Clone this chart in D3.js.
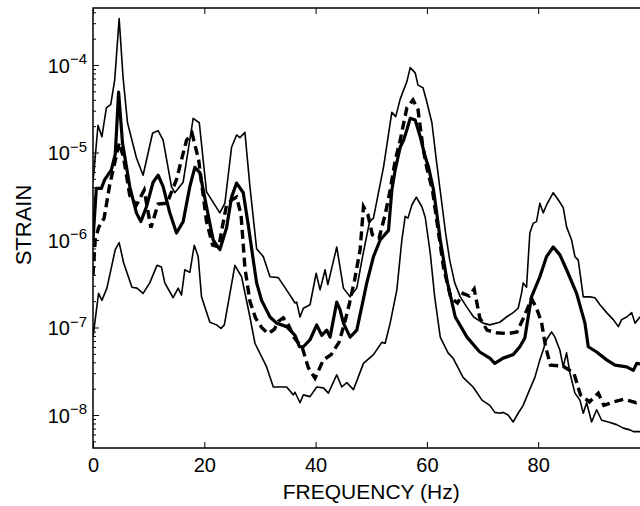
<!DOCTYPE html>
<html>
<head>
<meta charset="utf-8">
<script src="https://cdn.jsdelivr.net/npm/d3@7/dist/d3.min.js"></script>
<style>
body { margin: 0; background: #fff; }
text { font-family: "Liberation Sans", Arial, Helvetica, sans-serif; fill: #000; }
</style>
</head>
<body>
<div class="container"></div>
<script>
// strain spectra, values are log10(strain) against frequency in Hz

var upperBound = [[0,-5.34],[0.4,-5.05],[0.9,-4.69],[1.6,-4.82],[2.4,-4.49],[3.2,-4.45],[3.9,-4.17],[4.7,-3.47],[5.4,-4.14],[6.2,-4.66],[7.8,-5.06],[9.0,-5.26],[10.7,-4.78],[11.7,-4.75],[12.6,-4.86],[14.1,-5.39],[14.7,-5.46],[16.2,-5.34],[18.0,-4.61],[19.1,-4.66],[20.4,-5.45],[22.8,-5.69],[23.7,-5.58],[24.9,-4.94],[25.8,-4.80],[26.4,-4.83],[27.3,-4.77],[28.2,-5.39],[29.4,-6.10],[30.6,-6.19],[31.8,-6.42],[33.3,-6.43],[35.4,-6.63],[36.3,-6.72],[36.6,-6.71],[37.2,-6.88],[37.8,-6.78],[39.0,-6.74],[40.1,-6.38],[40.8,-6.57],[41.7,-6.34],[42.2,-6.51],[43.8,-6.08],[45.0,-6.55],[46.2,-6.65],[47.4,-6.55],[48.5,-6.17],[49.1,-5.98],[49.7,-5.79],[50.4,-5.75],[51.2,-5.49],[52.2,-5.17],[53.7,-4.54],[54.4,-4.59],[55.2,-4.39],[56.4,-4.19],[57.0,-4.03],[57.9,-4.09],[58.4,-4.23],[59.3,-4.26],[59.9,-4.40],[60.9,-4.66],[61.7,-5.09],[62.6,-5.54],[63.4,-5.94],[64.1,-6.23],[65.0,-6.49],[66.0,-6.65],[67.2,-6.77],[68.4,-6.88],[70.1,-6.95],[71.3,-6.97],[73.1,-6.94],[74.3,-6.88],[75.5,-6.83],[76.4,-6.78],[77.0,-6.61],[77.3,-6.49],[77.9,-6.54],[78.5,-5.92],[79.1,-5.81],[79.7,-5.79],[80.3,-5.58],[80.9,-5.69],[81.5,-5.60],[82.7,-5.46],[83.6,-5.54],[84.5,-5.63],[85.1,-5.85],[86.0,-6.00],[86.6,-6.19],[87.2,-6.23],[88.1,-6.65],[89.3,-6.65],[90.2,-6.66],[91.1,-6.74],[92.3,-6.83],[93.5,-6.91],[94.4,-6.99],[95.0,-6.91],[95.9,-6.88],[96.8,-6.83],[97.4,-6.95],[98.3,-6.88],[100,-6.82]];

var lowerBound = [[0,-7.11],[0.4,-6.91],[1.0,-6.61],[1.6,-6.69],[2.5,-6.55],[4.0,-6.11],[4.7,-6.03],[5.5,-6.26],[7.0,-6.54],[7.9,-6.55],[9.0,-6.61],[10.2,-6.49],[11.5,-6.29],[12.3,-6.31],[12.9,-6.49],[14.4,-6.66],[15.3,-6.55],[15.9,-6.63],[16.5,-6.34],[17.4,-6.37],[18.2,-6.06],[18.9,-6.19],[19.5,-6.65],[21.0,-6.94],[22.2,-6.97],[23.0,-7.01],[23.6,-6.97],[25.5,-6.29],[26.7,-6.42],[28.2,-6.88],[29.1,-7.18],[31.2,-7.45],[32.4,-7.68],[34.8,-7.68],[36.0,-7.77],[36.3,-7.74],[37.2,-7.86],[37.8,-7.77],[39.0,-7.79],[40.2,-7.68],[41.4,-7.69],[42.3,-7.75],[43.8,-7.54],[44.7,-7.68],[45.6,-7.63],[46.8,-7.71],[48.6,-7.41],[50.4,-7.31],[51.9,-7.17],[52.5,-7.18],[53.4,-6.95],[54.6,-6.57],[55.5,-6.00],[56.1,-5.73],[56.6,-5.75],[57.3,-5.60],[58.1,-5.51],[59.1,-5.62],[59.7,-5.74],[60.6,-6.15],[61.4,-6.65],[62.4,-7.11],[63.8,-7.29],[64.7,-7.35],[66.5,-7.57],[68.3,-7.68],[69.9,-7.83],[71.3,-7.89],[72.2,-7.97],[73.1,-7.98],[73.7,-7.97],[74.6,-8.00],[75.5,-8.08],[76.4,-7.98],[77.3,-7.89],[78.2,-7.75],[79.4,-7.57],[80.3,-7.37],[81.5,-7.14],[82.4,-7.05],[83.0,-7.11],[83.9,-7.26],[84.5,-7.45],[85.1,-7.29],[85.7,-7.52],[86.6,-7.75],[87.5,-7.83],[88.1,-7.98],[88.7,-7.86],[89.6,-8.08],[90.5,-7.94],[91.4,-8.06],[92.6,-8.08],[94.1,-8.11],[95.3,-8.15],[96.5,-8.17],[97.1,-8.19],[98.3,-8.19],[100,-8.21]];

var meanStrain = [[0,-6.00],[0.6,-5.41],[1.5,-5.41],[2.1,-5.31],[3.3,-5.20],[4.0,-5.02],[4.6,-4.31],[5.3,-4.89],[6.6,-5.39],[7.8,-5.69],[8.6,-5.79],[9.6,-5.62],[10.8,-5.34],[11.7,-5.26],[12.6,-5.39],[13.8,-5.69],[15.0,-5.92],[16.2,-5.79],[17.4,-5.39],[18.3,-5.17],[19.2,-5.23],[20.4,-5.62],[21.6,-6.00],[22.8,-6.11],[24.0,-5.86],[24.9,-5.51],[25.8,-5.35],[27.0,-5.46],[27.9,-5.83],[28.8,-6.23],[29.4,-6.49],[30.3,-6.69],[31.8,-6.88],[33.0,-6.95],[34.8,-6.99],[36.3,-7.09],[37.1,-7.22],[37.8,-7.22],[39.0,-7.14],[40.2,-6.97],[41.1,-7.09],[42.0,-7.03],[42.6,-7.11],[43.8,-6.71],[44.4,-6.80],[45.0,-6.95],[46.2,-7.11],[47.4,-7.03],[49.2,-6.49],[50.4,-6.19],[51.6,-6.00],[53.1,-5.89],[53.7,-5.43],[54.3,-5.20],[55.2,-4.94],[55.8,-4.86],[56.4,-4.74],[57.0,-4.61],[57.9,-4.63],[58.8,-4.82],[59.7,-5.05],[60.3,-5.17],[61.2,-5.43],[62.1,-5.85],[62.4,-6.00],[63.6,-6.46],[65.1,-6.88],[67.2,-7.11],[69.5,-7.28],[71.3,-7.35],[72.2,-7.41],[73.7,-7.35],[75.5,-7.31],[76.7,-7.22],[77.6,-7.12],[78.2,-6.88],[78.8,-6.65],[80.3,-6.42],[81.5,-6.19],[82.7,-6.08],[83.9,-6.17],[85.1,-6.34],[86.9,-6.61],[88.4,-6.95],[89.0,-7.22],[90.5,-7.28],[92.3,-7.37],[93.8,-7.43],[95.9,-7.45],[97.1,-7.49],[97.7,-7.41],[100,-7.43]];

var modelStrain = [[0,-6.40],[0.4,-6.00],[1.0,-5.86],[2.0,-5.75],[3.0,-5.37],[4.0,-5.09],[4.7,-4.89],[5.5,-5.06],[6.6,-5.49],[7.8,-5.60],[9.2,-5.43],[10.4,-5.86],[11.7,-5.59],[13.3,-5.58],[15.0,-5.31],[16.8,-4.86],[17.8,-4.78],[19.0,-5.09],[20.4,-5.79],[21.5,-6.06],[22.6,-6.08],[23.3,-5.83],[24.0,-5.60],[25.0,-5.54],[25.8,-5.51],[26.6,-5.71],[27.3,-6.32],[28.2,-6.70],[29.2,-6.89],[30.3,-7.00],[31.5,-7.07],[32.6,-7.02],[33.3,-6.93],[34.2,-6.89],[35.2,-6.98],[36.2,-7.12],[37.6,-7.23],[38.7,-7.46],[39.9,-7.58],[41.4,-7.37],[42.8,-7.31],[44.2,-7.17],[45.2,-6.95],[46.1,-6.72],[47.0,-6.46],[48.0,-6.11],[48.6,-5.62],[49.4,-5.71],[50.2,-5.94],[51.4,-5.98],[52.5,-5.71],[53.4,-5.43],[54.3,-5.09],[55.2,-4.86],[56.4,-4.49],[57.5,-4.40],[58.4,-4.51],[59.3,-4.95],[60.0,-5.18],[61.0,-5.43],[61.8,-5.79],[63.0,-6.32],[64.3,-6.66],[65.5,-6.72],[66.5,-6.61],[67.6,-6.64],[68.5,-6.56],[69.5,-6.89],[70.8,-7.03],[72.5,-7.06],[74.5,-7.07],[76.2,-7.05],[77.5,-6.87],[78.8,-6.67],[79.7,-6.78],[80.6,-6.94],[81.3,-7.21],[82.2,-7.43],[84.4,-7.44],[86.4,-7.52],[87.6,-7.77],[89.2,-7.85],[90.8,-7.75],[91.8,-7.89],[93.6,-7.85],[95.4,-7.82],[97.6,-7.86],[100,-7.81]];

var xTicks = [0, 20, 40, 60, 80];
var yDecades = [-8, -7, -6, -5, -4];
var xDomain = [0, 100];
var yDomainLog = [-8.377, -3.349];

var width = 640;
var height = 506;
var marginLeft = 93, marginTop = 8, plotW = 556.5, plotH = 440;

var translate = function(x, y) {
    return 'translate(' + x + ',' + y + ')';
}

var draw = function() {
    var svg = d3.select('.container').append('svg')
        .attr('width', width)
        .attr('height', height);

    var x = d3.scaleLinear().domain(xDomain).range([0, plotW]);
    var y = d3.scaleLog()
        .domain(yDomainLog.map(function(e) { return Math.pow(10, e); }))
        .range([plotH, 0]);

    var g = svg.append('g').attr('transform', translate(marginLeft, marginTop));

    svg.append('defs').append('clipPath').attr('id', 'plotClip')
        .append('rect').attr('width', plotW).attr('height', plotH);

    // minor ticks on log axis
    var minors = [];
    d3.range(-9, -3).forEach(function(e) {
        d3.range(2, 10).forEach(function(m) {
            var v = m * Math.pow(10, e);
            if (v > y.domain()[0] && v < y.domain()[1]) minors.push(v);
        });
    });
    var majors = yDecades.map(function(e) { return Math.pow(10, e); });

    g.append('g').call(d3.axisLeft(y).tickValues(minors).tickSize(-3).tickFormat(''))
        .call(function(s) { s.select('.domain').remove(); });
    g.append('g').attr('transform', translate(plotW, 0))
        .call(d3.axisRight(y).tickValues(minors).tickSize(-3).tickFormat(''))
        .call(function(s) { s.select('.domain').remove(); });

    var yAxis = g.append('g')
        .call(d3.axisLeft(y).tickValues(majors).tickSize(-6).tickPadding(6).tickFormat(''));
    yAxis.select('.domain').remove();
    yAxis.selectAll('.tick text').each(function(d) {
        var t = d3.select(this).attr('font-size', 20).attr('dy', '0.36em');
        t.append('tspan').text('10');
        t.append('tspan').attr('dy', '-0.55em').attr('font-size', 15)
            .text('\u2212' + Math.round(-Math.log10(d)));
    });
    g.append('g').attr('transform', translate(plotW, 0))
        .call(d3.axisRight(y).tickValues(majors).tickSize(-6).tickFormat(''))
        .call(function(s) { s.select('.domain').remove(); });

    var xAxis = g.append('g').attr('transform', translate(0, plotH))
        .call(d3.axisBottom(x).tickValues(xTicks).tickSize(-6).tickPadding(10));
    xAxis.select('.domain').remove();
    xAxis.selectAll('.tick text').attr('font-size', 20).attr('dy', '0.71em')
        .attr('y', 10);
    g.append('g')
        .call(d3.axisTop(x).tickValues(xTicks).tickSize(-6).tickFormat(''))
        .call(function(s) { s.select('.domain').remove(); });

    g.selectAll('.tick line').attr('stroke', '#000').attr('stroke-width', 1);

    var line = d3.line()
        .x(function(d) { return x(d[0]); })
        .y(function(d) { return y(Math.pow(10, d[1])); });

    var lines = g.append('g').attr('clip-path', 'url(#plotClip)')
        .attr('fill', 'none').attr('stroke', '#000').attr('stroke-linejoin', 'round');

    lines.append('path').datum(upperBound).attr('d', line).attr('stroke-width', 1.6);
    lines.append('path').datum(lowerBound).attr('d', line).attr('stroke-width', 1.6);
    lines.append('path').datum(meanStrain).attr('d', line).attr('stroke-width', 3.2);
    lines.append('path').datum(modelStrain).attr('d', line).attr('stroke-width', 3.4)
        .attr('stroke-dasharray', '9,5').attr('stroke-linejoin', 'miter');

    g.append('rect').attr('width', plotW).attr('height', plotH)
        .attr('fill', 'none').attr('stroke', '#000').attr('stroke-width', 1.5);

    svg.append('text').attr('x', marginLeft + x(50)).attr('y', 499)
        .attr('text-anchor', 'middle').attr('font-size', 21)
        .text('FREQUENCY (Hz)');

    svg.append('text').attr('transform', translate(31, 225) + ' rotate(-90)')
        .attr('text-anchor', 'middle').attr('font-size', 22)
        .text('STRAIN');
}

window.onload = draw;
</script>
</body>
</html>
